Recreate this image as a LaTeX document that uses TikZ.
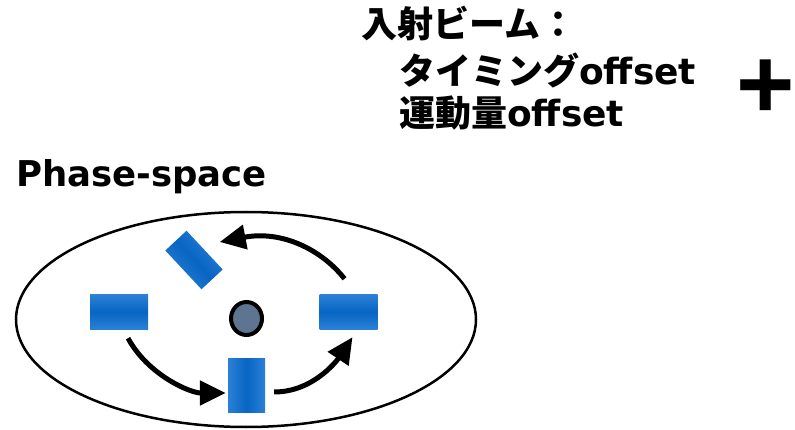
\documentclass[tikz,border=0pt]{standalone}
\usepackage{fontspec}
\setmainfont{DejaVu Sans}
\newfontfamily\jp{Noto Sans CJK JP}
\newfontfamily\ar{Liberation Sans}
\usetikzlibrary{arrows.meta,calc,shadings,shapes.geometric}
\definecolor{blueedge}{HTML}{2A80D6}
\definecolor{bluemid}{HTML}{0865C3}
\definecolor{slate}{HTML}{5E7592}
\tikzset{
  lbl/.style={anchor=base west,inner sep=0pt,font=\fontsize{36}{40}\selectfont\bfseries},
  hbar/.style={rectangle,inner sep=0pt,minimum width=58pt,minimum height=34pt,top color=blueedge,bottom color=blueedge,middle color=bluemid},
  vbar/.style={rectangle,inner sep=0pt,minimum width=37pt,minimum height=54pt,left color=blueedge,right color=blueedge,middle color=bluemid},
  flow/.style={line width=5pt,-{Triangle[length=26pt,width=24pt]}},
}
\begin{document}
\begin{tikzpicture}[x=1pt,y=-1pt]
\useasboundingbox (0,0) rectangle (795,430);
% texts
\node[lbl] (t1) at (361,38) {\jp 入射ビーム：};
\node[lbl] (t2) at (399,85) {\jp タイミング\rmfamily offset};
\node[lbl] (t3) at (399,127) {\jp 運動量\rmfamily offset};
\node[inner sep=0pt,font=\fontsize{100}{100}\selectfont\ar\bfseries] (plus) at (766,89) {+};
\node[lbl,font=\fontsize{35.5}{40}\selectfont\bfseries] (ps) at (16,187) {Phase-space};
% ellipse
\draw[line width=2.5pt] (246,319.5) ellipse [x radius=230, y radius=107.5];
\node[draw,line width=4pt,fill=slate,ellipse,minimum width=31pt,minimum height=33pt,inner sep=0pt] (c) at (246.5,318.5) {};
% bars
\node[hbar] (lr) at (119,312) {};
\node[hbar] (rr) at (348.5,312) {};
\node[vbar] (br) at (246.5,385) {};
\node[hbar,minimum width=53pt,minimum height=29pt,rotate=-47,shading angle=-47] (tr) at (194,260) {};
% arrows
\draw[flow] ($(lr.south)+(9,9)$) .. controls (148,375) and (190,393) .. ($(br.west)+(-2,8)$);
\draw[flow] ($(br.east)+(9,7)$) .. controls (312,392) and (336,362) .. ($(rr.south)+(4,8)$);
\draw[flow] ($(rr.north)+(-4,-16)$) .. controls (322,250) and (282,230) .. ($(tr.north)+(15,-8)$);
\end{tikzpicture}
\end{document}
